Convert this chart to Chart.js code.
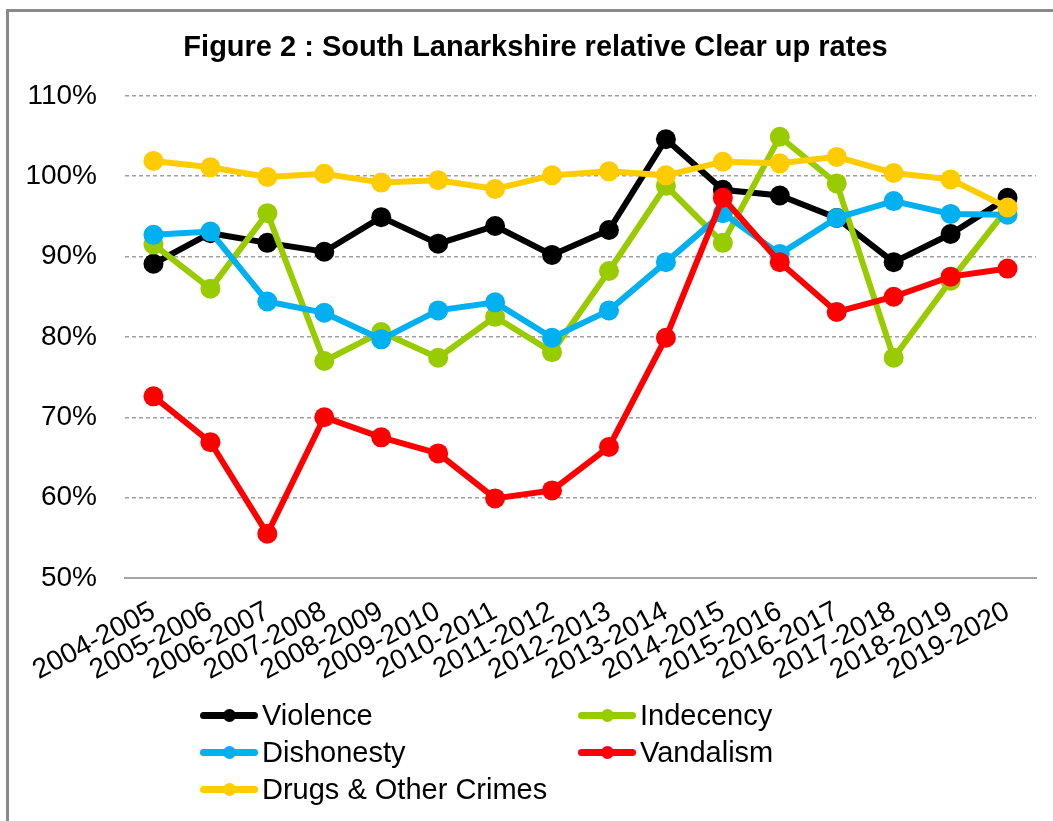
<!DOCTYPE html>
<html>
<head>
<meta charset="utf-8">
<script src="https://cdn.jsdelivr.net/npm/chart.js@4/dist/chart.umd.min.js"></script>
<style>
  html, body { margin: 0; padding: 0; background: #fff; overflow: hidden; }
  #wrap { position: relative; width: 1053px; height: 821px; overflow: hidden; }
  #frame {
    position: absolute; left: 6px; top: 9px; width: 1200px; height: 1000px;
    border-left: 3px solid #8a8a8a; border-top: 3px solid #8a8a8a;
  }
  canvas { position: absolute; left: 0; top: 0; }
  #legend {
    position: absolute; left: 200px; top: 697px;
    display: grid; grid-template-columns: 378px auto; grid-auto-rows: 37px;
    font-family: "Liberation Sans", Arial, sans-serif; font-size: 29px; color: #000;
  }
  .item { display: flex; align-items: center; white-space: nowrap; }
  .mark { position: relative; width: 58px; height: 7px; border-radius: 4px; margin-right: 4px; }
  .mark i { position: absolute; left: 23px; top: -3px; width: 13px; height: 13px; border-radius: 50%; background: inherit; }
</style>
</head>
<body>
<div id="wrap">
  <div id="frame"></div>
  <canvas id="chart" width="1053" height="821"></canvas>
  <div id="legend"></div>
</div>
<script>
// years on the x axis
const labels = ['2004-2005', '2005-2006', '2006-2007', '2007-2008', '2008-2009', '2009-2010',
  '2010-2011', '2011-2012', '2012-2013', '2013-2014', '2014-2015', '2015-2016',
  '2016-2017', '2017-2018', '2018-2019', '2019-2020'];

// clear up rates, %
const violence   = [89.1, 92.9, 91.7, 90.6, 94.9, 91.6, 93.8, 90.2, 93.3, 104.6, 98.3, 97.6, 94.8, 89.3, 92.8, 97.3];
const indecency  = [91.5, 86.0, 95.4, 77.0, 80.6, 77.4, 82.5, 78.1, 88.2, 98.8, 91.7, 104.9, 99.1, 77.4, 87.0, 96.0];
const dishonesty = [92.7, 93.1, 84.4, 83.0, 79.7, 83.3, 84.3, 79.9, 83.3, 89.3, 95.4, 90.3, 94.8, 96.9, 95.3, 95.2];
const vandalism  = [72.6, 66.9, 55.5, 70.0, 67.5, 65.5, 59.9, 60.9, 66.3, 79.9, 97.3, 89.3, 83.1, 85.0, 87.5, 88.5];
const drugs      = [101.9, 101.1, 99.9, 100.3, 99.2, 99.5, 98.4, 100.1, 100.6, 100.1, 101.8, 101.6, 102.4, 100.4, 99.6, 96.1];

const yTicks = [50, 60, 70, 80, 90, 100, 110];

const FONT = "'Liberation Sans', Arial, sans-serif";

function series(label, data, color, order) {
  return {
    label, data, order,
    borderColor: color,
    backgroundColor: color,
    borderWidth: 6,
    pointRadius: 10,
    pointHoverRadius: 10,
    pointBorderWidth: 0,
    tension: 0
  };
}

// later series sit on top, like the original
const datasets = [
  series('Violence', violence, '#000000', 5),
  series('Indecency', indecency, '#99cc00', 4),
  series('Dishonesty', dishonesty, '#00b0f0', 3),
  series('Vandalism', vandalism, '#ff0000', 2),
  series('Drugs & Other Crimes', drugs, '#ffcc00', 1)
];

const chart = new Chart(document.getElementById('chart'), {
  type: 'line',
  data: { labels, datasets },
  options: {
    responsive: false,
    animation: false,
    layout: { padding: { left: 18, right: 0, top: 0, bottom: 133 } },
    plugins: {
      legend: { display: false },
      tooltip: { enabled: false },
      title: {
        display: true,
        text: 'Figure 2 : South Lanarkshire relative Clear up rates',
        color: '#000',
        font: { family: FONT, size: 29, weight: 'bold' },
        padding: { top: 31, bottom: 30 }
      }
    },
    scales: {
      x: {
        offset: true,
        grid: { display: false },
        border: { display: true, color: '#a6a6a6', width: 2 },
        ticks: {
          color: '#000',
          font: { family: FONT, size: 28 },
          autoSkip: false,
          maxRotation: 28,
          minRotation: 28,
          padding: 9
        },
        afterFit: (s) => { s.height = 110; s.paddingLeft = 0; s.paddingRight = 17; }
      },
      y: {
        min: 50,
        max: 110,
        afterBuildTicks: (s) => { s.ticks = yTicks.map(v => ({ value: v })); },
        grid: {
          drawTicks: false,
          color: (c) => c.tick && c.tick.value === 50 ? 'rgba(0,0,0,0)' : '#a0a0a0',
          lineWidth: 1.5
        },
        border: { display: false, dash: [4, 3] },
        ticks: {
          color: '#000',
          font: { family: FONT, size: 28 },
          padding: 28,
          callback: (v) => v + '%'
        },
        afterFit: (s) => { s.width = 107; }
      }
    }
  }
});

// legend in two columns, built from the chart's own datasets
const legendEl = document.getElementById('legend');
chart.data.datasets.forEach((ds) => {
  const item = document.createElement('div');
  item.className = 'item';
  const mark = document.createElement('span');
  mark.className = 'mark';
  mark.style.background = ds.borderColor;
  mark.appendChild(document.createElement('i'));
  const txt = document.createElement('span');
  txt.textContent = ds.label;
  item.appendChild(mark);
  item.appendChild(txt);
  legendEl.appendChild(item);
});
</script>
</body>
</html>
